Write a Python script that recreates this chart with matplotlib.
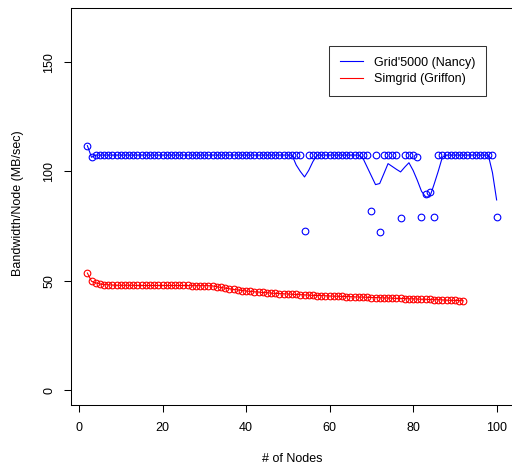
import numpy as np
import matplotlib
matplotlib.use("Agg")
import matplotlib.pyplot as plt
from matplotlib.lines import Line2D

plt.rcParams['font.family'] = ['Liberation Sans', 'DejaVu Sans']
plt.rcParams['font.size'] = 9

# number of nodes
nodes = np.arange(2, 101)
sim_nodes = np.arange(2, 93)

# Grid'5000 (Nancy) - measured points
grid_points = [
    111.8, 106.5, 107.5, 107.5, 107.5, 107.5, 107.5, 107.5, 107.5, 107.5,
    107.5, 107.5, 107.5, 107.5, 107.5, 107.5, 107.5, 107.5, 107.5, 107.5,
    107.5, 107.5, 107.5, 107.5, 107.5, 107.5, 107.5, 107.5, 107.5, 107.5,
    107.5, 107.5, 107.5, 107.5, 107.5, 107.5, 107.5, 107.5, 107.5, 107.5,
    107.5, 107.5, 107.5, 107.5, 107.5, 107.5, 107.5, 107.5, 107.5, 107.5,
    107.5, 107.5, 72.8, 107.5, 107.5, 107.5, 107.5, 107.5, 107.5, 107.5,
    107.5, 107.5, 107.5, 107.5, 107.5, 107.5, 107.5, 107.5, 81.8, 107.5,
    72.4, 107.5, 107.5, 107.5, 107.5, 78.6, 107.5, 107.5, 107.5, 106.4,
    79.1, 89.6, 90.7, 79.4, 107.5, 107.5, 107.5, 107.5, 107.5, 107.5,
    107.5, 107.5, 107.5, 107.5, 107.5, 107.5, 107.5, 107.5, 79.0,
]

# Grid'5000 (Nancy) - line
grid_line = [
    111.8, 106.5, 107.5, 107.5, 107.5, 107.5, 107.5, 107.5, 107.5, 107.5,
    107.5, 107.5, 107.5, 107.5, 107.5, 107.5, 107.5, 107.5, 107.5, 107.5,
    107.5, 107.5, 107.5, 107.5, 107.5, 107.5, 107.5, 107.5, 107.5, 107.5,
    107.5, 107.5, 107.5, 107.5, 107.5, 107.5, 107.5, 107.5, 107.5, 107.5,
    107.5, 107.5, 107.5, 107.5, 107.5, 107.5, 107.5, 107.5, 107.5, 107.5,
    103.0, 100.0, 97.5, 100.5, 104.5, 107.5, 107.5, 107.5, 107.5, 107.5,
    107.5, 107.5, 107.5, 107.5, 107.5, 107.5, 106.0, 102.0, 98.0, 94.0,
    94.5, 99.0, 103.6, 102.3, 101.0, 99.8, 102.0, 104.0, 100.5, 96.0,
    91.0, 88.4, 88.4, 94.0, 100.0, 106.5, 107.5, 107.5, 107.5, 107.5,
    107.5, 107.5, 107.5, 107.5, 107.5, 107.5, 107.5, 99.5, 87.0,
]

# Simgrid (Griffon)
sim_values = [
    53.6, 49.8, 49.1, 48.6, 48.3, 48.2, 48.1, 48.0, 48.0, 48.0,
    48.0, 48.0, 47.9, 47.9, 47.9, 47.9, 47.9, 47.9, 47.9, 47.9,
    47.9, 47.9, 47.9, 47.9, 47.9, 47.8, 47.8, 47.8, 47.8, 47.8,
    47.7, 47.3, 47.0, 46.7, 46.4, 46.1, 45.9, 45.6, 45.4, 45.2,
    45.0, 44.9, 44.7, 44.6, 44.4, 44.3, 44.2, 44.1, 44.0, 43.9,
    43.8, 43.7, 43.6, 43.5, 43.4, 43.3, 43.3, 43.2, 43.1, 43.0,
    43.0, 42.9, 42.8, 42.8, 42.7, 42.6, 42.6, 42.5, 42.4, 42.4,
    42.3, 42.2, 42.2, 42.1, 42.0, 42.0, 41.9, 41.8, 41.8, 41.7,
    41.6, 41.6, 41.5, 41.4, 41.4, 41.3, 41.2, 41.1, 41.1, 41.0,
    40.9,
]

fig = plt.figure(figsize=(5.12, 4.66), dpi=100)
ax = fig.add_axes([71/512, 61/466, 442/512, 397/466])

ax.plot(nodes, grid_line, color='blue', lw=0.8)
ax.plot(nodes, grid_points, 'o', mfc='none', mec='blue', ms=4.8, mew=0.8)
ax.plot(sim_nodes, sim_values, color='red', lw=0.8,
        marker='o', mfc='none', mec='red', ms=4.8, mew=0.8)

ax.set_xlim(-1.92, 103.92)
ax.set_ylim(-6.72, 174.72)
ax.set_xticks([0, 20, 40, 60, 80, 100])
ax.set_yticks([0, 50, 100, 150])
ax.tick_params(direction='out', length=5, width=0.75, colors='black')
ax.tick_params(axis='x', pad=7.5)
ax.tick_params(axis='y', pad=6.5)
plt.setp(ax.get_yticklabels(), rotation=90, va='center')
for s in ax.spines.values():
    s.set_linewidth(0.75)

fig.text(292/512, 1 - 459/466, '# of Nodes', ha='center', va='center')
fig.text(18/512, 1 - 203/466, 'Bandwidth/Node (MB/sec)', ha='center',
         va='center', rotation=90)

handles = [Line2D([], [], color='blue', lw=0.8),
           Line2D([], [], color='red', lw=0.8)]
leg = fig.legend(handles, ["Grid'5000 (Nancy)", 'Simgrid (Griffon)'],
                 loc='upper left', bbox_to_anchor=(329/512, 1 - 46/466),
                 frameon=True, fancybox=False, borderpad=0.85,
                 handlelength=1.85, handletextpad=0.9, labelspacing=0.38,
                 borderaxespad=0)
leg.get_frame().set_edgecolor('black')
leg.get_frame().set_linewidth(0.75)

fig.savefig('out.png', dpi=100)
